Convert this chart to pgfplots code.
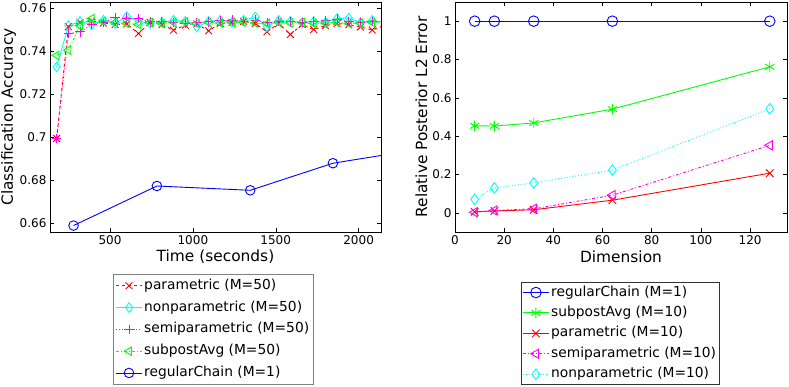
\documentclass[border=0pt]{standalone}
\usepackage{fontspec}
\setmainfont{DejaVu Sans}
\usepackage{pgfplots}
\pgfplotsset{compat=1.18}
\definecolor{mred}{rgb}{1,0,0}
\definecolor{mcyan}{rgb}{0,1,1}
\definecolor{mmag}{rgb}{1,0,1}
\definecolor{mgreen}{rgb}{0,1,0}
\definecolor{mblue}{rgb}{0,0,1}
\newcommand{\lgf}{\fontsize{13.8}{15}\selectfont}
\pgfplotsset{
  mstyle/.style={
    scale only axis,
    anchor=south west,
    tick align=inside,
    major tick length=4pt,
    every tick/.style={black, line width=0.5pt},
    axis line style={line width=0.7pt},
    tick label style={font=\fontsize{12}{14}\selectfont},
    label style={font=\fontsize{15.4}{17}\selectfont},
    /pgf/number format/assume math mode=true,
    /pgf/number format/1000 sep={},
    legend cell align=left,
    legend style={font=\lgf, anchor=north west, line width=0.7pt,
      nodes={font=\lgf, inner sep=2pt, text height=10.5pt, text depth=3.3pt}},
    legend image code/.code={\draw[mark repeat=2,mark phase=2] plot coordinates {(0cm,0cm)(0.45cm,0cm)(0.9cm,0cm)};},
    every axis plot/.append style={line width=0.9pt},
  }
}
\begin{document}
\begin{tikzpicture}
\path[use as bounding box] (0,0) rectangle (789pt,386pt);
\begin{axis}[mstyle,
  at={(50pt,154pt)}, width=331pt, height=230pt,
  xmin=138, xmax=2135, ymin=0.656, ymax=0.763,
  xtick={500,1000,1500,2000},
  ytick={0.66,0.68,0.7,0.72,0.74,0.76},
  xlabel={Time (seconds)}, ylabel={Classification Accuracy},
  xlabel style={at={(axis description cs:0.5,-0.109)}, anchor=center},
  ylabel style={at={(axis description cs:-0.125,0.5)}, anchor=center},
  legend style={at={(axis description cs:0.19,-0.1826)}, draw=gray, inner sep=2.5pt, row sep=4pt},
  clip=true,
  mark size=4.8pt,
]
\addplot[draw=mred, dashed, mark=x, mark options={solid, draw=mred}] coordinates {
(178,0.6995)(249,0.7515)(319,0.7535)(390,0.7542)(460,0.7532)(531,0.7525)(601,0.7528)(672,0.7483)(742,0.7535)(813,0.7525)(883,0.7499)(954,0.7522)(1024,0.7528)(1095,0.7496)(1165,0.7530)(1236,0.7535)(1306,0.7540)(1377,0.7530)(1447,0.7491)(1518,0.7530)(1588,0.7479)(1659,0.7525)(1729,0.7502)(1800,0.7520)(1870,0.7530)(1941,0.7525)(2011,0.7514)(2082,0.7500)(2152,0.7520)};
\addlegendentry{\lgf parametric (M=50)}
\addplot[draw=mcyan, solid, mark=diamond, mark options={solid, draw=mcyan}] coordinates {
(178,0.7328)(249,0.7520)(319,0.7540)(390,0.7525)(460,0.7545)(531,0.7530)(601,0.7563)(672,0.7540)(742,0.7530)(813,0.7535)(883,0.7545)(954,0.7540)(1024,0.7514)(1095,0.7540)(1165,0.7545)(1236,0.7535)(1306,0.7545)(1377,0.7560)(1447,0.7515)(1518,0.7545)(1588,0.7540)(1659,0.7535)(1729,0.7540)(1800,0.7535)(1870,0.7553)(1941,0.7555)(2011,0.7535)(2082,0.7545)(2152,0.7535)};
\addlegendentry{\lgf nonparametric (M=50)}
\addplot[draw=mmag, dotted, mark=+, mark options={solid, draw=mmag}] coordinates {
(178,0.6995)(249,0.7483)(319,0.7491)(390,0.7525)(460,0.7535)(531,0.7558)(601,0.7555)(672,0.7553)(742,0.7538)(813,0.7540)(883,0.7535)(954,0.7530)(1024,0.7535)(1095,0.7538)(1165,0.7542)(1236,0.7545)(1306,0.7540)(1377,0.7545)(1447,0.7535)(1518,0.7540)(1588,0.7538)(1659,0.7535)(1729,0.7538)(1800,0.7542)(1870,0.7550)(1941,0.7540)(2011,0.7535)(2082,0.7540)(2152,0.7538)};
\addlegendentry{\lgf semiparametric (M=50)}
\addplot[draw=mgreen, dash dot, mark=triangle, mark options={solid, rotate=90, draw=mgreen}] coordinates {
(178,0.7382)(249,0.7406)(319,0.7520)(390,0.7553)(460,0.7540)(531,0.7535)(601,0.7530)(672,0.7525)(742,0.7535)(813,0.7530)(883,0.7535)(954,0.7538)(1024,0.7530)(1095,0.7535)(1165,0.7532)(1236,0.7535)(1306,0.7535)(1377,0.7532)(1447,0.7530)(1518,0.7535)(1588,0.7532)(1659,0.7535)(1729,0.7530)(1800,0.7532)(1870,0.7535)(1941,0.7530)(2011,0.7532)(2082,0.7535)(2152,0.7532)};
\addlegendentry{\lgf subpostAvg (M=50)}
\addplot[draw=mblue, solid, mark=o, mark options={solid, draw=mblue}] coordinates {
(280,0.6590)(783,0.6774)(1346,0.6754)(1845,0.6880)(2345,0.6942)};
\addlegendentry{\lgf regularChain (M=1)}
\end{axis}
\begin{axis}[mstyle,
  at={(455pt,154pt)}, width=332pt, height=230pt,
  xmin=0, xmax=135, ymin=-0.1, ymax=1.1,
  xtick={0,20,40,60,80,100,120},
  ytick={0,0.2,0.4,0.6,0.8,1},
  xlabel={Dimension}, ylabel={Relative Posterior L2 Error},
  xlabel style={at={(axis description cs:0.5,-0.109)}, anchor=center},
  ylabel style={at={(axis description cs:-0.101,0.5)}, anchor=center},
  legend style={at={(axis description cs:0.198,-0.216)}, draw=black!80, inner sep=1.6pt, row sep=2.6pt},
  mark size=5.3pt,
]
\addplot[draw=mblue, solid, mark=o, mark options={solid, draw=mblue}] coordinates {(8,1)(16,1)(32,1)(64,1)(128,1)};
\addlegendentry{\lgf regularChain (M=1)}
\addplot[draw=mgreen, solid, mark=asterisk, mark options={solid, draw=mgreen}] coordinates {(8,0.454)(16,0.453)(32,0.469)(64,0.541)(128,0.762)};
\addlegendentry{\lgf subpostAvg (M=10)}
\addplot[draw=mred, solid, mark=x, mark options={solid, draw=mred}] coordinates {(8,0.005)(16,0.010)(32,0.016)(64,0.066)(128,0.207)};
\addlegendentry{\lgf parametric (M=10)}
\addplot[draw=mmag, dash dot, mark=triangle, mark options={solid, rotate=90, draw=mmag}] coordinates {(8,0.003)(16,0.012)(32,0.021)(64,0.092)(128,0.352)};
\addlegendentry{\lgf semiparametric (M=10)}
\addplot[draw=mcyan, dotted, mark=diamond, mark options={solid, draw=mcyan}] coordinates {(8,0.071)(16,0.130)(32,0.156)(64,0.223)(128,0.543)};
\addlegendentry{\lgf nonparametric (M=10)}
\end{axis}
\end{tikzpicture}
\end{document}
